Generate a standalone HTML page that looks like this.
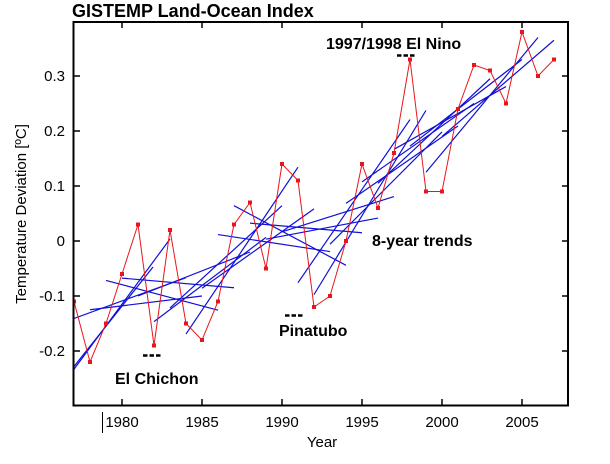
<!DOCTYPE html>
<html><head><meta charset="utf-8"><style>
html,body{margin:0;padding:0;background:#fff;width:610px;height:464px;overflow:hidden}
text{font-family:"Liberation Sans",Arial,sans-serif}
</style></head><body>
<svg id="s" width="610" height="464" xmlns="http://www.w3.org/2000/svg">
<defs><clipPath id="cp"><rect x="74" y="22" width="494" height="383"/></clipPath></defs>
<rect width="610" height="464" fill="#fff"/>
<text x="72" y="17" font-size="18" font-weight="bold">GISTEMP Land-Ocean Index</text>
<g id="blue" clip-path="url(#cp)">
<line x1="72" y1="372" x2="170" y2="239" stroke="#1010d8" stroke-width="1.2"/>
<line x1="72" y1="369" x2="153" y2="267" stroke="#1010d8" stroke-width="1.2"/>
</g>
<g id="red" clip-path="url(#cp)"></g>
<rect x="73.5" y="22" width="494.5" height="383.5" fill="none" stroke="#000" stroke-width="2"/>
<g id="ticks" stroke="#000" stroke-width="1.5"></g>
<g font-size="15" text-anchor="end">
<text x="65" y="81">0.3</text><text x="65" y="136">0.2</text><text x="65" y="191">0.1</text>
<text x="65" y="246">0</text><text x="65" y="301">-0.1</text><text x="65" y="356">-0.2</text>
</g>
<g font-size="15" text-anchor="middle">
<text x="122" y="427">1980</text><text x="202" y="427">1985</text><text x="282" y="427">1990</text>
<text x="362" y="427">1995</text><text x="442" y="427">2000</text><text x="522" y="427">2005</text>
<text x="322" y="447">Year</text>
</g>
<line x1="102.5" y1="412" x2="102.5" y2="433" stroke="#000" stroke-width="1"/>
<text transform="translate(26,214) rotate(-90)" font-size="15" text-anchor="middle">Temperature Deviation [ºC]</text>
<g font-size="16" font-weight="bold">
<text x="326" y="49">1997/1998 El Nino</text>
<text x="372" y="246">8-year trends</text>
<text x="279" y="336">Pinatubo</text>
<text x="115" y="384">El Chichon</text>
</g>
<g stroke="#000" stroke-width="2.5" stroke-dasharray="4.5,2">
<line x1="397" y1="55.5" x2="415" y2="55.5"/>
<line x1="285" y1="315.5" x2="303" y2="315.5"/>
<line x1="143" y1="355.5" x2="162" y2="355.5"/>
</g>
</svg>
<script>
var d=[-0.11,-0.22,-0.15,-0.06,0.03,-0.19,0.02,-0.15,-0.18,-0.11,0.03,0.07,-0.05,0.14,0.11,-0.12,-0.10,0.00,0.14,0.06,0.16,0.33,0.09,0.09,0.24,0.32,0.31,0.25,0.38,0.30,0.33];
function X(y){return 122+16*(y-1980)}function Y(v){return 241-550*v}
var ns="http://www.w3.org/2000/svg";
function el(t,a,p){var e=document.createElementNS(ns,t);for(var k in a)e.setAttribute(k,a[k]);p.appendChild(e);return e}
var R=document.getElementById('red'),B=document.getElementById('blue'),T=document.getElementById('ticks');
var pts=d.map(function(v,i){return X(1977+i)+','+Y(v)}).join(' ');
el('polyline',{points:pts,fill:'none',stroke:'#e8161c','stroke-width':1},R);
d.forEach(function(v,i){el('rect',{x:X(1977+i)-2,y:Y(v)-2,width:4,height:4,fill:'#e8161c'},R)});
for(var s=0;s+8<=d.length;s++){var sx=0,sy=0,sxx=0,sxy=0;for(var j=0;j<8;j++){var x=j,y=d[s+j];sx+=x;sy+=y;sxx+=x*x;sxy+=x*y}
var b=(8*sxy-sx*sy)/(8*sxx-sx*sx),a=(sy-b*sx)/8;
el('line',{x1:X(1977+s),y1:Y(a),x2:X(1977+s+7),y2:Y(a+7*b),stroke:'#1010d8','stroke-width':1.2},B)}
for(var yr=1980;yr<=2005;yr+=5){el('line',{x1:X(yr),y1:405,x2:X(yr),y2:399},T);el('line',{x1:X(yr),y1:22,x2:X(yr),y2:28},T)}
for(var v=-0.2;v<0.35;v+=0.1){var yy=Y(v);el('line',{x1:73.5,y1:yy,x2:80,y2:yy},T);el('line',{x1:568,y1:yy,x2:562,y2:yy},T)}
</script>
</body></html>
